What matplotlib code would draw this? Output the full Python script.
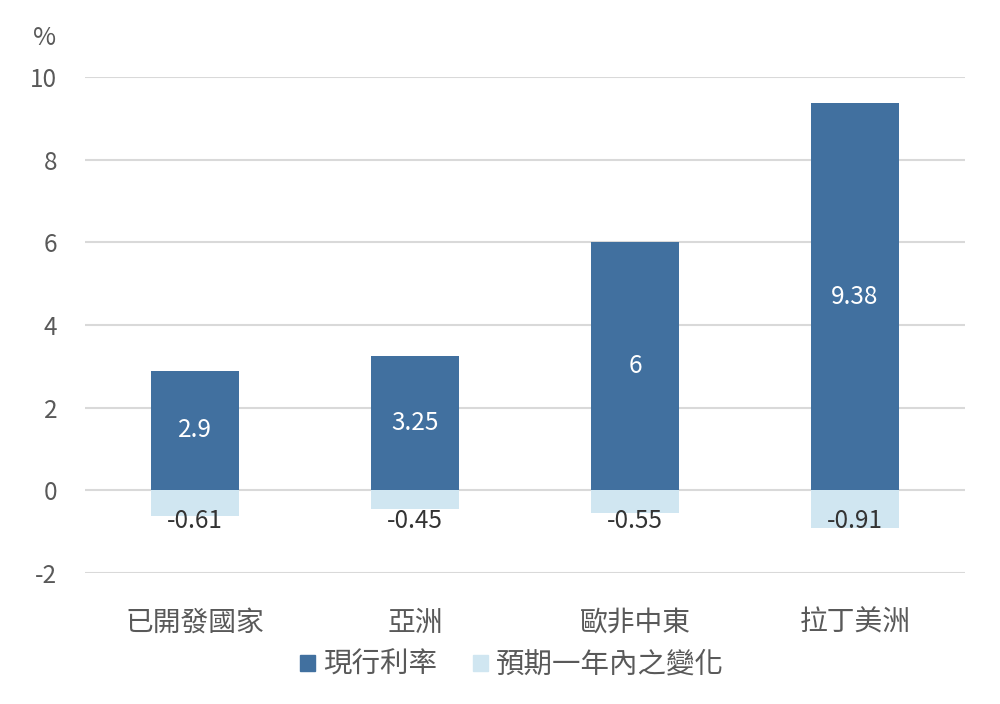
import numpy as np
import matplotlib
matplotlib.use("Agg")
from matplotlib import pyplot as plt
from matplotlib.patches import Patch

plt.rcParams['font.family'] = ['Noto Sans CJK TC', 'DejaVu Sans']

# data
regions = ["已開發國家", "亞洲", "歐非中東", "拉丁美洲"]
current_rate = [2.9, 3.25, 6, 9.38]
expected_change = [-0.61, -0.45, -0.55, -0.91]
series_names = ["現行利率", "預期一年內之變化"]
y_ticks = [-2, 0, 2, 4, 6, 8, 10]

dark_blue = "#41709f"
light_blue = "#d0e6f1"
text_gray = "#595959"


def main():
    fig = plt.figure(figsize=(10, 7.04), dpi=100)
    ax = fig.add_axes([0.085, 0.186, 0.88, 0.7046])

    x = np.arange(len(regions))
    width = 0.4

    ax.bar(x, current_rate, width, color=dark_blue, zorder=3)
    ax.bar(x, expected_change, width, color=light_blue, zorder=3)

    # labels inside the dark bars
    for xi, v in zip(x, current_rate):
        ax.text(xi, v / 2, f"{v:g}", ha="center", va="center",
                color="white", fontsize=17.5, zorder=4)
    # labels under the light bars
    for xi, v in zip(x, expected_change):
        ax.text(xi, -0.75, f"{v:g}", ha="center", va="center",
                color="#333333", fontsize=17.5, zorder=4)

    ax.set_xlim(-0.5, len(regions) - 0.5)
    ax.set_ylim(-2, 10)
    ax.set_yticks(y_ticks)
    ax.set_yticklabels([str(t) for t in y_ticks])
    ax.set_xticks(x)
    ax.set_xticklabels(regions)
    ax.tick_params(axis="y", length=0, pad=20, labelsize=17.5, labelcolor=text_gray)
    ax.tick_params(axis="x", length=0, pad=25, labelsize=20, labelcolor=text_gray)

    ax.grid(axis="y", color="#d9d9d9", linewidth=1.5, zorder=0)
    for s in ax.spines.values():
        s.set_visible(False)

    fig.text(0.045, 1 - 38 / 704, "%", ha="center", va="center",
             fontsize=18, color=text_gray)

    handles = [Patch(color=dark_blue), Patch(color=light_blue)]
    fig.legend(handles, series_names, loc="center", ncol=2,
               bbox_to_anchor=(0.512, 1 - 665 / 704), frameon=False,
               fontsize=20.5, labelcolor=text_gray, handlelength=0.53,
               handleheight=0.53, handletextpad=0.3, columnspacing=1.25)

    fig.savefig("out.png", dpi=100)
    plt.close(fig)


if __name__ == '__main__':
    main()
